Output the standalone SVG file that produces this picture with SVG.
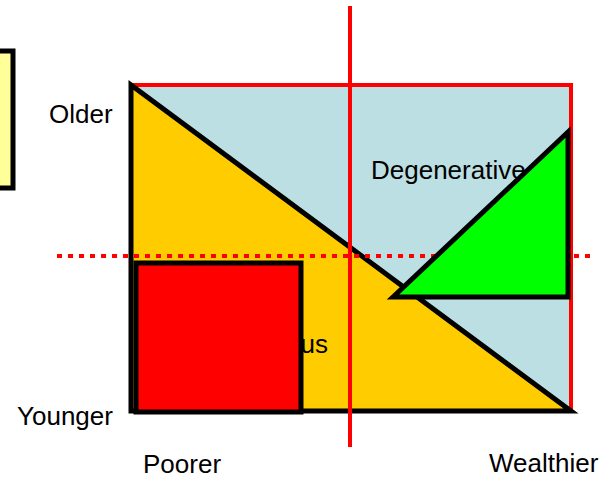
<svg xmlns="http://www.w3.org/2000/svg" width="608" height="479" viewBox="0 0 608 479">
<style>
.lbl{font-family:"Liberation Sans",Arial,sans-serif;font-size:26px;fill:#000}
.blk{stroke:#000;stroke-width:5;stroke-linejoin:miter}
.axis{stroke:#FF0000;stroke-width:4;fill:none}
</style>
<rect width="608" height="479" fill="#fff"/>
<g id="legend-box"><rect x="-10" y="51" width="23" height="137" fill="#FFFF99" class="blk"/></g>
<g id="field"><rect x="131" y="85" width="440" height="326" fill="#BBDFE3" stroke="#FF0000" stroke-width="4"/></g>
<g id="infectious"><polygon points="131,85 131,411 571,411" fill="#FFCC00" class="blk"/></g>
<g id="axes">
<line x1="57" y1="256" x2="595" y2="256" class="axis" stroke-width="5" stroke-dasharray="5 6"/>
<line x1="350" y1="6" x2="350" y2="447" class="axis"/>
</g>
<g id="degenerative"><polygon points="393,297 568,132 568,297" fill="#00FF00" class="blk"/></g>
<g id="poor-young"><rect x="136" y="263" width="165" height="149" fill="#FF0000" class="blk"/></g>
<g id="labels">
<text class="lbl" x="49" y="123">Older</text>
<text class="lbl" x="17" y="425">Younger</text>
<text class="lbl" x="143" y="473">Poorer</text>
<text class="lbl" x="489" y="472">Wealthier</text>
<text class="lbl" x="371" y="179">Degenerative</text>
<text class="lbl" x="328" y="353" text-anchor="end">us</text>
</g>
</svg>
